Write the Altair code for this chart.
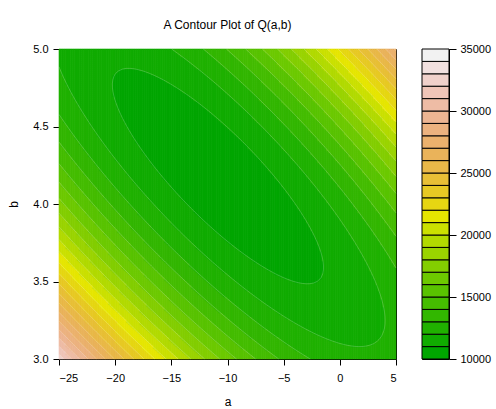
import colorsys
import numpy as np
import pandas as pd
import altair as alt

alt.data_transformers.disable_max_rows()

# ---- values ----
title_text = "A Contour Plot of Q(a,b)"
a_domain = [-25, 5]
b_domain = [3.0, 5.0]
x_ticks = [-25, -20, -15, -10, -5, 0, 5]
y_ticks = [3.0, 3.5, 4.0, 4.5, 5.0]
cbar_ticks = [10000, 15000, 20000, 25000, 30000, 35000]
levels = [10000, 11000, 12000, 13000, 14000, 15000, 16000, 17000, 18000,
          19000, 20000, 21000, 22000, 23000, 24000, 25000, 26000, 27000,
          28000, 29000, 30000, 31000, 32000, 33000, 34000, 35000]

# quadratic surface Q(a,b), coefficients estimated from the contour shapes
q_min = 10335.0
a_center = -10.85
b_center = 4.18
q_aa = 26.6      # coefficient of (a-a0)^2
q_ab = 304.8     # coefficient of 2(a-a0)(b-b0)
q_bb = 4868.0    # coefficient of (b-b0)^2


def Qfun(a, b):
    da = a - a_center
    db = b - b_center
    return q_min + q_aa * da ** 2 + 2 * q_ab * da * db + q_bb * db ** 2


def terrain_colors(n):
    k = n // 2
    h = [4 / 12, 2 / 12, 0.0]
    s = [1.0, 1.0, 0.0]
    v = [0.65, 0.9, 0.95]
    hs = list(np.linspace(h[0], h[1], k)) + list(np.linspace(h[1], h[2], n - k + 1)[1:])
    ss = list(np.linspace(s[0], s[1], k)) + list(np.linspace(s[1], s[2], n - k + 1)[1:])
    vs = list(np.linspace(v[0], v[1], k)) + list(np.linspace(v[1], v[2], n - k + 1)[1:])
    out = []
    for hh, sv, vv in zip(hs, ss, vs):
        r, g, b = colorsys.hsv_to_rgb(hh, sv, vv)
        out.append("#%02x%02x%02x" % (round(r * 255), round(g * 255), round(b * 255)))
    return out


nbands = len(levels) - 1
colors = terrain_colors(nbands)

# grid of cells
na, nb = 150, 155
a_edges = np.linspace(a_domain[0], a_domain[1], na + 1)
b_edges = np.linspace(b_domain[0], b_domain[1], nb + 1)
A_lo, B_lo = np.meshgrid(a_edges[:-1], b_edges[:-1])
A_hi, B_hi = np.meshgrid(a_edges[1:], b_edges[1:])
Q = Qfun((A_lo + A_hi) / 2, (B_lo + B_hi) / 2)
band = np.clip(np.searchsorted(levels, Q.ravel(), side="right") - 1, 0, nbands - 1)

df = pd.DataFrame({
    "a_lo": A_lo.ravel(), "a_hi": A_hi.ravel(),
    "b_lo": B_lo.ravel(), "b_hi": B_hi.ravel(),
    "band": band,
})

# contour line segments (marching squares on a coarser node grid)
ma, mb = 90, 80
ga = np.linspace(a_domain[0], a_domain[1], ma + 1)
gb = np.linspace(b_domain[0], b_domain[1], mb + 1)
GA, GB = np.meshgrid(ga, gb)
GQ = Qfun(GA, GB)
segs = []
for L in levels[1:-1]:
    for j in range(mb):
        for i in range(ma):
            corners = [(ga[i], gb[j], GQ[j, i]), (ga[i + 1], gb[j], GQ[j, i + 1]),
                       (ga[i + 1], gb[j + 1], GQ[j + 1, i + 1]), (ga[i], gb[j + 1], GQ[j + 1, i])]
            pts = []
            for k in range(4):
                x1, y1, q1 = corners[k]
                x2, y2, q2 = corners[(k + 1) % 4]
                if (q1 - L) * (q2 - L) < 0:
                    t = (L - q1) / (q2 - q1)
                    pts.append((x1 + t * (x2 - x1), y1 + t * (y2 - y1)))
            if len(pts) >= 2:
                segs.append({"x1": pts[0][0], "y1": pts[0][1], "x2": pts[1][0], "y2": pts[1][1]})
            if len(pts) == 4:
                segs.append({"x1": pts[2][0], "y1": pts[2][1], "x2": pts[3][0], "y2": pts[3][1]})
seg_df = pd.DataFrame(segs)

band_scale = alt.Scale(domain=list(range(nbands)), range=colors)
FONT = "Liberation Sans"
xs = alt.Scale(domain=a_domain, nice=False, zero=False)
ys = alt.Scale(domain=b_domain, nice=False, zero=False)

fill = alt.Chart(df).mark_rect(strokeWidth=0.6).encode(
    x=alt.X("a_lo:Q", scale=xs,
            axis=alt.Axis(values=x_ticks, title="a", domain=False, grid=False,
                          tickSize=6, tickColor="black", labelPadding=7,
                          labelFontSize=11, labelColor="black", titleFontSize=12,
                          titleFontWeight="normal", titleColor="black", titlePadding=13)),
    x2="a_hi:Q",
    y=alt.Y("b_lo:Q", scale=ys,
            axis=alt.Axis(values=y_ticks, format=".1f", title="b", domain=False, grid=False,
                          tickSize=6, tickColor="black", labelPadding=5,
                          labelFontSize=11, labelColor="black", titleFontSize=12,
                          titleFontWeight="normal", titleColor="black", titlePadding=12)),
    y2="b_hi:Q",
    color=alt.Color("band:O", scale=band_scale, legend=None),
    stroke=alt.Stroke("band:O", scale=band_scale, legend=None),
)

lines = alt.Chart(seg_df).mark_rule(color="white", strokeWidth=0.6, opacity=0.35).encode(
    x=alt.X("x1:Q", scale=xs), y=alt.Y("y1:Q", scale=ys),
    x2="x2:Q", y2="y2:Q",
)

main = alt.layer(fill, lines).properties(
    width=337, height=310,
    title=alt.TitleParams(title_text, fontSize=12, fontWeight="normal", anchor="middle",
                          frame="group", offset=11, color="black", font=FONT),
)

cb_df = pd.DataFrame({"lo": levels[:-1], "hi": levels[1:], "band": list(range(nbands))})
cbar = alt.Chart(cb_df).mark_rect(stroke="black", strokeWidth=1).encode(
    y=alt.Y("lo:Q", scale=alt.Scale(domain=[levels[0], levels[-1]], nice=False, zero=False),
            axis=alt.Axis(orient="right", values=cbar_ticks, format="d", title=None,
                          domain=False, grid=False, tickSize=7, tickColor="black",
                          labelPadding=4, labelFontSize=11, labelColor="black")),
    y2="hi:Q",
    color=alt.Color("band:O", scale=band_scale, legend=None),
).properties(width=27, height=310)

chart = alt.hconcat(main, cbar, spacing=24).properties(
    padding={"left": 7, "top": 18, "right": 0, "bottom": 0},
    background="white",
).configure(font=FONT).configure_view(stroke="black", strokeWidth=1)

chart.save("out.html", embed_options={"renderer": "svg", "actions": False})
